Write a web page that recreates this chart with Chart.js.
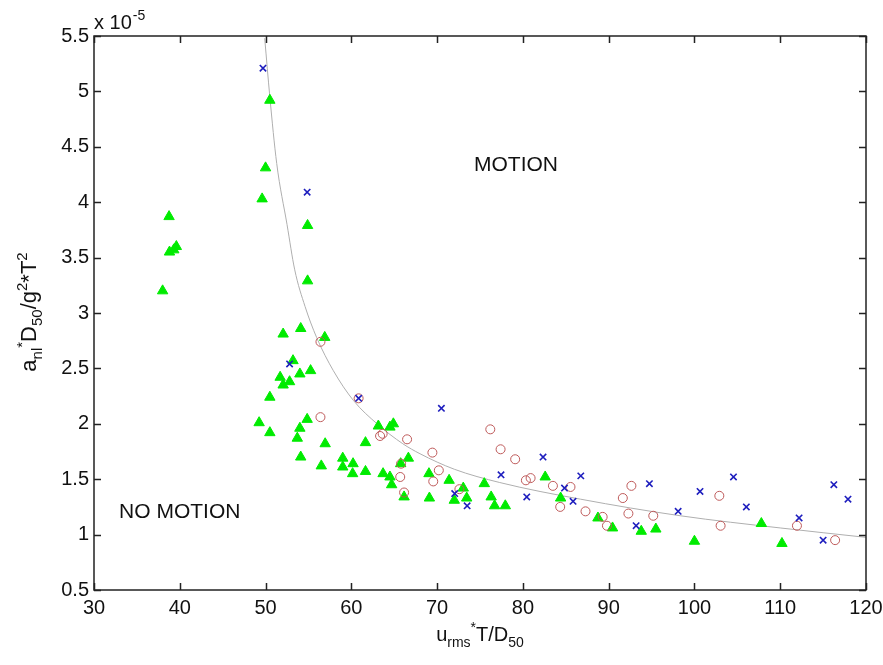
<!DOCTYPE html>
<html>
<head>
<meta charset="utf-8">
<script src="https://cdn.jsdelivr.net/npm/chart.js"></script>
<style>
  body { margin: 0; background: #fff; }
  #wrap { width: 883px; height: 665px; }
</style>
</head>
<body>
<div id="wrap"><canvas id="scatterChart" width="883" height="665"></canvas></div>
<script>
// values in units of 1e-5 on the y axis
const triX = [38.0, 38.75, 38.8, 39.3, 39.6, 49.25, 49.6, 50.0, 50.5, 50.5, 50.5, 51.7, 52.05, 52.05, 52.8, 53.2,
    53.7, 54.0, 54.0, 54.1, 54.1, 54.85, 54.9, 54.9, 55.25, 56.9, 56.95, 56.5, 59.0, 59.0, 60.2, 60.15,
    61.65, 61.65, 63.15, 63.7, 64.5, 64.9, 64.5, 64.7, 65.75, 66.65, 66.15, 69.05, 69.1, 71.4, 72.0, 73.05,
    73.45, 75.5, 76.3, 76.7, 77.95, 82.6, 84.4, 88.75, 90.45, 93.8, 95.5, 100.0, 107.8, 110.2];
const triY = [3.20, 3.87, 3.55, 3.57, 3.60, 2.01, 4.03, 4.31, 4.92, 2.24, 1.92, 2.42, 2.81, 2.35, 2.38, 2.57,
    1.87, 1.96, 2.45, 2.86, 1.70, 2.04, 3.79, 3.29, 2.48, 2.78, 1.82, 1.62, 1.69, 1.61, 1.64, 1.55,
    1.83, 1.57, 1.98, 1.55, 1.97, 2.00, 1.52, 1.45, 1.64, 1.69, 1.34, 1.55, 1.33, 1.49, 1.31, 1.42,
    1.33, 1.46, 1.34, 1.26, 1.26, 1.52, 1.33, 1.15, 1.06, 1.03, 1.05, 0.94, 1.10, 0.92];

const crossX = [49.7, 54.85, 52.8, 60.85, 70.5, 72.05, 73.5, 77.45, 80.45, 82.35, 84.85, 85.85, 86.75, 93.2,
    94.75, 98.1, 100.65, 104.55, 106.05, 112.2, 115.0, 116.25, 117.9];
const crossY = [5.21, 4.09, 2.54, 2.23, 2.14, 1.37, 1.26, 1.54, 1.34, 1.70, 1.42, 1.30, 1.53, 1.08,
    1.46, 1.21, 1.39, 1.52, 1.25, 1.15, 0.95, 1.45, 1.32];

const circX = [56.4, 56.4, 60.85, 63.35, 63.65, 65.8, 65.7, 66.15, 66.5, 69.45, 69.55, 70.2, 72.6, 76.2, 77.4,
    79.1, 80.35, 80.9, 83.5, 84.35, 85.55, 87.3, 89.3, 89.8, 91.65, 92.3, 92.65, 95.2, 102.9, 103.05,
    111.95, 116.4];
const circY = [2.74, 2.06, 2.23, 1.89, 1.91, 1.64, 1.52, 1.38, 1.86, 1.74, 1.48, 1.58, 1.41, 1.95, 1.77,
    1.68, 1.49, 1.51, 1.44, 1.25, 1.43, 1.21, 1.16, 1.08, 1.33, 1.19, 1.44, 1.17, 1.35, 1.08,
    1.08, 0.95];

// threshold curve
const curveX = [49.9, 50.5, 51.3, 52.5, 53.4, 54.6, 55.95, 57.9, 60.25, 63.0, 66.0, 68.0, 72.0, 77.3, 86.7, 98.35, 110.0, 120.0];
const curveY = [5.48, 4.95, 4.35, 3.80, 3.39, 3.06, 2.78, 2.48, 2.21, 2.00, 1.82, 1.73, 1.59, 1.47, 1.32, 1.17, 1.06, 0.975];

const xTicks = [30, 40, 50, 60, 70, 80, 90, 100, 110, 120];
const yTicks = [0.5, 1, 1.5, 2, 2.5, 3, 3.5, 4, 4.5, 5, 5.5];

const pts = (xs, ys) => xs.map((x, i) => ({ x: x, y: ys[i] }));

const FONT = '"Liberation Sans", Arial, sans-serif';

function drawRich(ctx, parts, cx, baseY, size) {
    const small = Math.round(size * 0.7);
    let total = 0;
    parts.forEach(p => {
        ctx.font = (p.s ? small : size) + 'px ' + FONT;
        total += ctx.measureText(p.t).width;
    });
    let x = cx - total / 2;
    ctx.textAlign = 'left';
    ctx.textBaseline = 'alphabetic';
    parts.forEach(p => {
        ctx.font = (p.s ? small : size) + 'px ' + FONT;
        let dy = 0;
        if (p.s === 'sub') dy = 6;
        if (p.s === 'sup') dy = -9;
        ctx.fillText(p.t, x, baseY + dy);
        x += ctx.measureText(p.t).width;
    });
}

const framePlugin = {
    id: 'frame',
    afterDraw(chart) {
        const ctx = chart.ctx;
        const a = chart.chartArea;
        const xs = chart.scales.x, ys = chart.scales.y;
        ctx.save();
        ctx.strokeStyle = '#222';
        ctx.lineWidth = 1.5;
        ctx.strokeRect(a.left, a.top, a.right - a.left, a.bottom - a.top);
        ctx.beginPath();
        xTicks.forEach(v => {
            const px = Math.round(xs.getPixelForValue(v)) + 0.5;
            ctx.moveTo(px, a.bottom); ctx.lineTo(px, a.bottom - 7);
            ctx.moveTo(px, a.top); ctx.lineTo(px, a.top + 7);
        });
        yTicks.forEach(v => {
            const py = Math.round(ys.getPixelForValue(v)) + 0.5;
            ctx.moveTo(a.left, py); ctx.lineTo(a.left + 7, py);
            ctx.moveTo(a.right, py); ctx.lineTo(a.right - 7, py);
        });
        ctx.stroke();

        ctx.fillStyle = '#111';
        ctx.textAlign = 'center';
        ctx.textBaseline = 'middle';
        ctx.font = '21px ' + FONT;
        ctx.fillText('MOTION', xs.getPixelForValue(79.2), ys.getPixelForValue(4.33));
        ctx.fillText('NO MOTION', xs.getPixelForValue(40.0), ys.getPixelForValue(1.2));

        // exponent note
        ctx.textAlign = 'left';
        ctx.textBaseline = 'alphabetic';
        ctx.font = '20px ' + FONT;
        ctx.fillText('x 10', a.left, 29);
        const w = ctx.measureText('x 10').width;
        ctx.font = '14px ' + FONT;
        ctx.fillText('-5', a.left + w + 1, 20);

        // axis titles
        drawRich(ctx, [
            { t: 'u' }, { t: 'rms', s: 'sub' }, { t: '*', s: 'sup' }, { t: 'T/D' }, { t: '50', s: 'sub' }
        ], (a.left + a.right) / 2, 641, 20);

        ctx.save();
        ctx.translate(36, 312);
        ctx.rotate(-Math.PI / 2);
        drawRich(ctx, [
            { t: 'a' }, { t: 'nl', s: 'sub' }, { t: '*', s: 'sup' }, { t: 'D' }, { t: '50', s: 'sub' },
            { t: '/g' }, { t: '2', s: 'sup' }, { t: '*T' }, { t: '2', s: 'sup' }
        ], 0, 0, 22);
        ctx.restore();
        ctx.restore();
    }
};

const ctx = document.getElementById('scatterChart').getContext('2d');
const scatterChart = new Chart(ctx, {
    type: 'scatter',
    data: {
        datasets: [{
            label: 'curve',
            data: pts(curveX, curveY),
            showLine: true,
            borderColor: 'rgb(175, 175, 175)',
            borderWidth: 1,
            pointRadius: 0,
            cubicInterpolationMode: 'monotone',
            order: 4
        }, {
            label: 'triangles',
            data: pts(triX, triY),
            pointStyle: 'triangle',
            pointRadius: 6,
            backgroundColor: 'rgb(0, 235, 0)',
            borderColor: 'rgb(0, 235, 0)',
            borderWidth: 1,
            order: 3
        }, {
            label: 'circles',
            data: pts(circX, circY),
            pointStyle: 'circle',
            pointRadius: 4.5,
            backgroundColor: 'rgba(0, 0, 0, 0)',
            borderColor: 'rgb(190, 90, 90)',
            borderWidth: 1,
            order: 2
        }, {
            label: 'crosses',
            data: pts(crossX, crossY),
            pointStyle: 'crossRot',
            pointRadius: 4.5,
            borderColor: 'rgb(30, 30, 190)',
            borderWidth: 1.6,
            order: 1
        }]
    },
    options: {
        responsive: false,
        animation: false,
        devicePixelRatio: 1,
        layout: { padding: { left: 0, top: 36, right: 17, bottom: 0 } },
        plugins: { legend: { display: false }, tooltip: { enabled: false } },
        scales: {
            x: {
                type: 'linear',
                min: 30,
                max: 120,
                afterFit: s => { s.height = 75; s.paddingLeft = 0; s.paddingRight = 0; },
                afterBuildTicks: s => { s.ticks = xTicks.map(v => ({ value: v })); },
                grid: { display: false, drawTicks: false },
                border: { display: false },
                ticks: { color: '#111', font: { size: 20, family: FONT }, padding: 6, maxRotation: 0 }
            },
            y: {
                type: 'linear',
                min: 0.5,
                max: 5.5,
                afterFit: s => { s.width = 94; s.paddingTop = 0; s.paddingBottom = 0; },
                afterBuildTicks: s => { s.ticks = yTicks.map(v => ({ value: v })); },
                grid: { display: false, drawTicks: false },
                border: { display: false },
                ticks: { color: '#111', font: { size: 20, family: FONT }, padding: 5, callback: v => String(v) }
            }
        }
    },
    plugins: [framePlugin]
});
</script>
</body>
</html>
